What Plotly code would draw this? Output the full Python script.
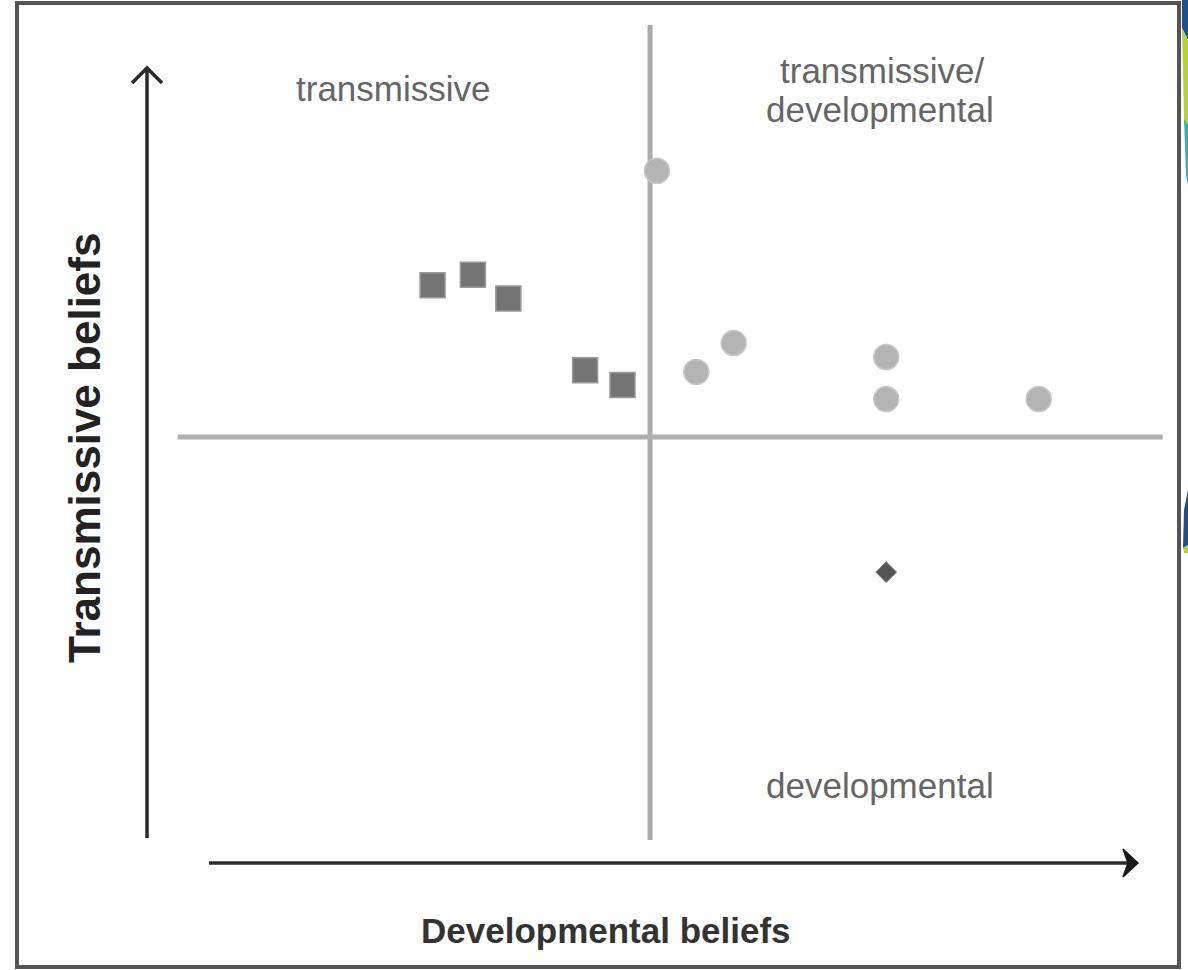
import plotly.graph_objects as go

W, H = 1188, 970

# ---- data (quadrant scale: 0,0 = centre of the quadrant cross) ----
transmissive_x = [-2.21, -1.80, -1.44, -0.66, -0.28]
transmissive_y = [1.84, 1.97, 1.68, 0.81, 0.63]

trans_dev_x = [0.07, 0.47, 0.85, 2.40, 2.40, 3.95]
trans_dev_y = [3.23, 0.79, 1.14, 0.97, 0.46, 0.46]

developmental_x = [2.40]
developmental_y = [-1.64]

quadrant_labels = ["transmissive", "transmissive/", "developmental", "developmental"]
x_title = "Developmental beliefs"
y_title = "Transmissive beliefs"

# axis ranges (data units)
X_RANGE = [-6.606, 5.467]
Y_RANGE = [-6.468, 5.303]

def px(x):
    return x / W

def py(y):
    return 1 - y / H

FONT = "Liberation Sans, Arial, sans-serif"

fig = go.Figure()

fig.add_trace(go.Scatter(
    x=transmissive_x, y=transmissive_y, mode="markers",
    marker=dict(symbol="square", size=25, color="#747474",
                line=dict(color="#9a9a9a", width=1.5)),
    showlegend=False, hoverinfo="skip"))

fig.add_trace(go.Scatter(
    x=trans_dev_x, y=trans_dev_y, mode="markers",
    marker=dict(symbol="circle", size=25, color="#b4b4b4",
                line=dict(color="#c8c8c8", width=1.5)),
    showlegend=False, hoverinfo="skip"))

fig.add_trace(go.Scatter(
    x=developmental_x, y=developmental_y, mode="markers",
    marker=dict(symbol="diamond", size=16, color="#555555",
                line=dict(color="#7a7a7a", width=1)),
    showlegend=False, hoverinfo="skip"))

shapes = []
# quadrant cross
shapes.append(dict(type="line", xref="x", yref="y", x0=0, x1=0, y0=5.0, y1=-4.89,
                   line=dict(color="#ababab", width=5), layer="below"))
shapes.append(dict(type="line", xref="x", yref="y", x0=-4.80, x1=5.21, y0=0, y1=0,
                   line=dict(color="#b0b0b0", width=5), layer="below"))
# frame
shapes.append(dict(type="rect", xref="paper", yref="paper",
                   x0=px(17), x1=px(1179), y0=py(3), y1=py(967),
                   line=dict(color="#555555", width=4)))
# axis arrows (lines)
shapes.append(dict(type="line", xref="paper", yref="paper",
                   x0=px(147), x1=px(147), y0=py(838), y1=py(70),
                   line=dict(color="#2a2a2a", width=3.5)))
shapes.append(dict(type="line", xref="paper", yref="paper",
                   x0=px(209), x1=px(1134), y0=py(863), y1=py(863),
                   line=dict(color="#2a2a2a", width=3.5)))
# arrow heads
shapes.append(dict(type="path", xref="paper", yref="paper",
                   path=f"M {px(132)},{py(83)} L {px(147)},{py(68)} L {px(162)},{py(83)}",
                   line=dict(color="#2a2a2a", width=3.5)))
shapes.append(dict(type="path", xref="paper", yref="paper",
                   path=f"M {px(1123)},{py(849)} L {px(1138)},{py(863)} L {px(1123)},{py(877)} L {px(1128)},{py(863)} Z",
                   fillcolor="#1a1a1a", line=dict(color="#1a1a1a", width=1.5)))

# slide background remnants beyond the right frame edge
def poly(points, color):
    d = "M " + " L ".join(f"{px(a)},{py(b)}" for a, b in points) + " Z"
    return dict(type="path", xref="paper", yref="paper", path=d,
                fillcolor=color, line=dict(width=0))

shapes.append(poly([(1182, 0), (1188, 0), (1188, 40), (1182, 28)], "#1f4e8a"))
shapes.append(poly([(1182, 28), (1188, 40), (1188, 125), (1184, 118)], "#b7d433"))
shapes.append(poly([(1184, 118), (1188, 125), (1188, 185), (1186, 175)], "#2fb5a0"))
shapes.append(poly([(1188, 490), (1188, 545), (1183, 548), (1184, 510)], "#1f4e8a"))
shapes.append(poly([(1183, 548), (1188, 545), (1188, 553), (1184, 553)], "#b7d433"))

def label(text, x, y, size=35, color="#666666", bold=False, angle=0):
    return dict(text=f"<b>{text}</b>" if bold else text, x=px(x), y=py(y),
                xref="paper", yref="paper", showarrow=False,
                font=dict(family=FONT, size=size, color=color),
                xanchor="center", yanchor="middle", textangle=angle)

annotations = [
    label(quadrant_labels[0], 393, 88),
    label(quadrant_labels[1], 882, 71),
    label(quadrant_labels[2], 880, 109),
    label(quadrant_labels[3], 880, 785),
    label(x_title, 606, 930, color="#333333", bold=True),
    label(y_title, 84, 448, size=44, color="#222222", bold=True, angle=-90),
]

fig.update_layout(
    width=W, height=H,
    margin=dict(l=0, r=0, t=0, b=0),
    paper_bgcolor="white", plot_bgcolor="white",
    xaxis=dict(range=X_RANGE, visible=False, domain=[0, 1], fixedrange=True),
    yaxis=dict(range=Y_RANGE, visible=False, domain=[0, 1], fixedrange=True),
    shapes=shapes, annotations=annotations,
)

fig.write_html("out.html", config={"displayModeBar": False},
               post_script="document.body.style.margin='0';document.body.style.overflow='hidden';")
